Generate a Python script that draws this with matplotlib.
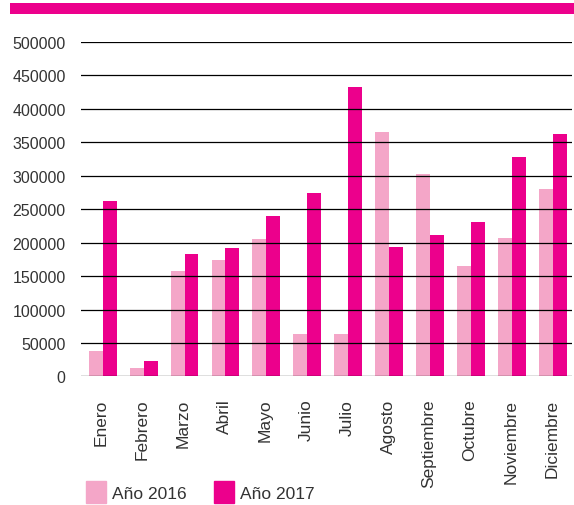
import numpy as np
import matplotlib
matplotlib.use('Agg')
import matplotlib.pyplot as plt
from matplotlib.patches import Rectangle, Patch

plt.rcParams['font.family'] = ['Liberation Sans', 'DejaVu Sans']

meses = ['Enero', 'Febrero', 'Marzo', 'Abril', 'Mayo', 'Junio', 'Julio',
         'Agosto', 'Septiembre', 'Octubre', 'Noviembre', 'Diciembre']
anio_2016 = [38000, 12000, 158000, 174000, 205000, 63000, 63000,
             366000, 303000, 165000, 207000, 280000]
anio_2017 = [262000, 23000, 183000, 192000, 240000, 274000, 433000,
             194000, 211000, 231000, 328000, 363000]
yticks = [0, 50000, 100000, 150000, 200000, 250000, 300000, 350000, 400000, 450000, 500000]

c16 = '#F4A6C8'
c17 = '#EC008C'
txt = '#333333'

fig = plt.figure(figsize=(5.74, 5.06), dpi=100)
ax = fig.add_axes([0.141, 0.254, 0.856, 0.661])

x = np.arange(len(meses))
w = 0.34
ax.bar(x - w/2 + 0.03, anio_2016, w, color=c16, zorder=1)
ax.bar(x + w/2 + 0.03, anio_2017, w, color=c17, zorder=1)

ax.set_xlim(-0.5, len(meses) - 0.5)
ax.set_ylim(0, 500000)
ax.set_yticks(yticks)
ax.set_yticklabels([str(v) for v in yticks], fontsize=11.5, color=txt)
ax.set_xticks(x)
ax.set_xticklabels(meses, rotation=90, fontsize=12.5, color=txt, va='top')
ax.tick_params(axis='both', length=0)
ax.tick_params(axis='y', pad=11)
ax.tick_params(axis='x', pad=16)
for v in yticks:
    ax.axhline(v, color='black', lw=0.9, zorder=3)
for s in ax.spines.values():
    s.set_visible(False)

# franja superior
fig.add_artist(Rectangle((10/574, 1 - 15/506), 564/574, 11/506,
                         transform=fig.transFigure, color=c17, lw=0))

handles = [Patch(color=c16), Patch(color=c17)]
fig.legend(handles, ['Año 2016', 'Año 2017'], loc='upper left',
           bbox_to_anchor=(86/574, 1 - 482/506), ncol=2, frameon=False,
           fontsize=12.5, handlelength=1.15, handleheight=1.6,
           handletextpad=0.35, columnspacing=1.6, labelcolor=txt,
           borderaxespad=0, borderpad=0)

fig.savefig('out.png', dpi=100)
